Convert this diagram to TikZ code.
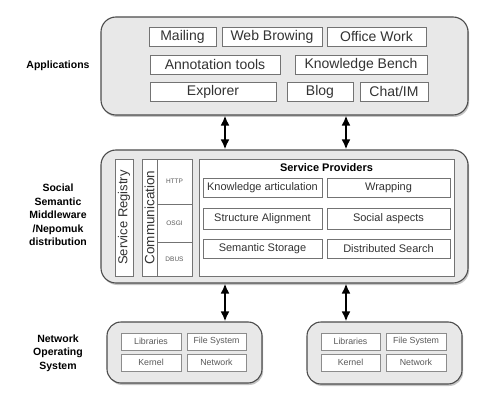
\documentclass[tikz,border=0pt]{standalone}
\usepackage{fontspec}
\setmainfont{Liberation Sans}
\usetikzlibrary{arrows.meta, shadows}

\begin{document}
\begin{tikzpicture}[
    x=1pt, y=-1pt,
    panel/.style={rectangle, draw=black!70, line width=1.1pt, rounded corners=15pt, fill=black!9, drop shadow={shadow xshift=1.2pt, shadow yshift=-2pt, fill=black!45}},
    box/.style={rectangle, draw=black!55, line width=0.8pt, fill=white, inner sep=0pt, text=black!80},
    appbox/.style={box, minimum height=19pt, font=\fontsize{14}{16}\selectfont},
    srvbox/.style={box, minimum height=19pt, font=\fontsize{11}{13}\selectfont},
    osbox/.style={box, draw=black!45, minimum height=17pt, text=black!65, font=\fontsize{8.8}{10}\selectfont},
    protbox/.style={box, minimum width=35pt, text=black!65, font=\fontsize{6.5}{8}\selectfont},
    layer/.style={align=center, font=\bfseries\fontsize{10.5}{13.5}\selectfont},
    dblarrow/.style={{Latex[length=10pt,width=9pt]}-{Latex[length=10pt,width=9pt]}, line width=2.4pt}
]
\useasboundingbox (0,0) rectangle (479,409);

% Applications
\node[layer] (applbl) at (58,66) {Applications};
\node[panel, minimum width=367pt, minimum height=98pt] (apps) at (284.5,66) {};
\node[appbox, minimum width=67pt] (mailing) at (182.5,36.5) {Mailing};
\node[appbox, minimum width=100pt] (web) at (272,36.5) {Web Browing};
\node[appbox, minimum width=99pt] (office) at (376.5,36.5) {Office Work};
\node[appbox, minimum width=130pt] (annot) at (215,64.5) {Annotation tools};
\node[appbox, minimum width=132pt] (bench) at (361,64.5) {Knowledge Bench};
\node[appbox, minimum width=126pt] (explorer) at (213,91.5) {Explorer};
\node[appbox, minimum width=66pt] (blog) at (320,91.5) {Blog};
\node[appbox, minimum width=68pt] (chat) at (394,91.5) {Chat/IM};

% Middleware
\node[layer] (midlbl) at (58,215) {Social\\Semantic\\Middleware\\/Nepomuk\\distribution};
\node[panel, minimum width=367pt, minimum height=133pt] (mid) at (284.5,216.5) {};
\node[box, minimum width=18pt, minimum height=117pt] (registry) at (124,217.5) {};
\node[rotate=90, font=\fontsize{13}{15}\selectfont, text=black!80] at (registry) {Service Registry};
\node[box, minimum width=15pt, minimum height=117pt] (comm) at (149.5,217.5) {};
\node[rotate=90, font=\fontsize{13.5}{15}\selectfont, text=black!80] at (comm) {Communication};
\node[protbox, minimum height=45pt] (http) at (174.5,181.5) {HTTP};
\node[protbox, minimum height=38pt] (osgi) at (174.5,223) {OSGI};
\node[protbox, minimum height=34pt] (dbus) at (174.5,259) {DBUS};
\node[box, minimum width=255pt, minimum height=117pt] (providers) at (326.5,217.5) {};
\node[font=\bfseries\fontsize{11}{13}\selectfont] (provlbl) at (326.5,168) {Service Providers};
\node[srvbox, minimum width=119pt] (artic) at (262.5,188) {Knowledge articulation};
\node[srvbox, minimum width=123pt] (wrap) at (388.5,188) {Wrapping};
\node[srvbox, minimum width=119pt, minimum height=21pt] (align) at (262.5,218.5) {Structure Alignment};
\node[srvbox, minimum width=123pt, minimum height=21pt] (social) at (388.5,218.5) {Social aspects};
\node[srvbox, minimum width=119pt] (storage) at (262.5,248.5) {Semantic Storage};
\node[srvbox, minimum width=123pt] (search) at (388.5,248.5) {Distributed Search};

% Network operating system
\node[layer] (noslbl) at (58,353) {Network\\Operating\\System};
\node[panel, rounded corners=14pt, minimum width=155pt, minimum height=61pt] (nosl) at (184.5,352.5) {};
\node[osbox, minimum width=60pt] (libl) at (151,341.5) {Libraries};
\node[osbox, minimum width=59pt] (fsl) at (216.5,341.5) {File System};
\node[osbox, minimum width=60pt] (kernl) at (151,362.5) {Kernel};
\node[osbox, minimum width=59pt] (netl) at (216.5,362.5) {Network};
\node[panel, rounded corners=14pt, minimum width=155pt, minimum height=62pt] (nosr) at (384.5,353) {};
\node[osbox, minimum width=59pt] (libr) at (350.5,341.5) {Libraries};
\node[osbox, minimum width=60pt] (fsr) at (416,341.5) {File System};
\node[osbox, minimum width=59pt] (kernr) at (350.5,362.5) {Kernel};
\node[osbox, minimum width=60pt] (netr) at (416,362.5) {Network};

% Arrows
\coordinate (ax1) at (225,0);
\coordinate (ax2) at (346,0);
\draw[dblarrow] (apps.south -| ax1) -- (mid.north -| ax1);
\draw[dblarrow] (apps.south -| ax2) -- (mid.north -| ax2);
\draw[dblarrow] (mid.south -| ax1) -- (nosl.north -| ax1);
\draw[dblarrow] (mid.south -| ax2) -- (nosr.north -| ax2);

\end{tikzpicture}
\end{document}
